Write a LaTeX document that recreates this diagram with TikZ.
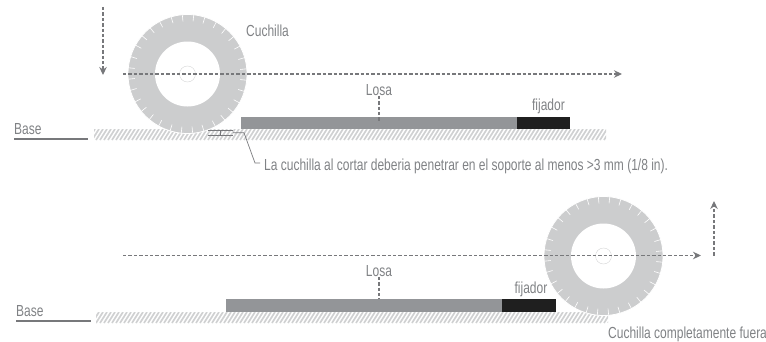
\documentclass[tikz,border=0pt]{standalone}
\usepackage{fontspec}
\setmainfont[FakeStretch=0.75]{Liberation Sans}
\usepackage{tikz}
\usetikzlibrary{arrows.meta}
\definecolor{labelgray}{HTML}{808285}
\definecolor{dashgray}{HTML}{77787B}
\definecolor{bladegray}{HTML}{CCCDCE}
\definecolor{slabgray}{HTML}{939598}
\definecolor{hatchgray}{HTML}{D0D1D2}
\tikzset{
label/.style={text=labelgray, font=\fontsize{16}{18}\selectfont, inner sep=0pt},
slab/.style={fill=slabgray, inner sep=0pt, minimum height=12.5pt, anchor=north west},
clamp/.style={fill=black!88, inner sep=0pt, minimum height=12.5pt, anchor=north west},
blade/.style={shape=circle, draw=white, line width=0.8pt, fill=bladegray, inner sep=0pt, minimum size=119pt},
bore/.style={shape=circle, fill=white, inner sep=0pt, minimum size=65pt},
hub/.style={shape=circle, draw=bladegray, line width=0.3pt, inner sep=0pt, minimum size=16pt},
travel/.style={draw=dashgray, line width=1.1pt, dash pattern=on 3.4pt off 2pt, -{Stealth[length=8pt,width=7.5pt]}},
marker/.style={draw=dashgray, line width=1.1pt, dash pattern=on 3.4pt off 2pt},
baseline/.style={draw=dashgray, line width=1.2pt}
}
\begin{document}
\begin{tikzpicture}[x=1pt,y=1pt]
\useasboundingbox (0,0) rectangle (766,341);
% ground strips
\begin{scope}
\clip (94,201) rectangle (606,212);
\foreach \i in {80,84,...,620} \draw[hatchgray, line width=1.7pt] (\i,201) -- ++(7,11);
\end{scope}
\begin{scope}
\clip (96,18) rectangle (608,29);
\foreach \i in {80,84,...,620} \draw[hatchgray, line width=1.7pt] (\i,18) -- ++(7,11);
\end{scope}
% slabs
\node (slabtop) [slab, minimum width=276pt] at (241,224.5) {};
\node (clamptop) [clamp, minimum width=53pt] at (517,224.5) {};
\node (slablow) [slab, minimum width=276pt] at (226,42) {};
\node (clamplow) [clamp, minimum width=54pt] at (502,42) {};
% blades
\node (bladetop) [blade] at (187.5,267) {};
\node (bladelow) [blade] at (603.5,85) {};
\foreach \c in {bladetop,bladelow}
{
\foreach \a in {5.625,16.875,...,360}
\draw[white, line width=0.6pt] (\c.\a) -- ++(\a+180:7);
\node (\c bore) [bore] at (\c.center) {};
\node (\c hub) [hub] at (\c.center) {};
}
% labels
\node (cuchilla) [label, anchor=west] at (246,310) {Cuchilla};
\node (losatop) [label] at (379,251) {Losa};
\node (fijadortop) [label] at (548.5,235) {fijador};
\node (basetop) [label, anchor=west] at (14,212) {Base};
\node (nota) [label, anchor=west] at (264,175) {La cuchilla al cortar deberia penetrar en el soporte al menos >3 mm (1/8 in).};
\node (losalow) [label] at (379,70) {Losa};
\node (fijadorlow) [label] at (531,52) {fijador};
\node (baselow) [label, anchor=west] at (16,30) {Base};
\node (fuera) [label, anchor=west] at (608,7) {Cuchilla completamente fuera};
% free ends
\coordinate (downstart) at (103,334);
\coordinate (downend) at (103,266);
\coordinate (topstart) at (123,267);
\coordinate (topend) at (622,267);
\coordinate (lowstart) at (123,85.5);
\coordinate (lowend) at (701,85.5);
\coordinate (upstart) at (714,85.5);
\coordinate (upend) at (714,140);
\coordinate (baseAend) at (14,202);
\coordinate (baseBend) at (16,20);
\coordinate (cutA) at (208,210.5);
\coordinate (cutB) at (233,210.5);
\coordinate (cutC) at (208,206);
\coordinate (cutD) at (233,206);
\coordinate (leadstart) at (233,208.3);
\coordinate (leadbend) at (244,208.3);
\coordinate (leadfoot) at (255,178);
\coordinate (leadend) at (260,178);
\draw[travel] (downstart) -- (downend);
\draw[travel] (topstart) -- (topend);
\draw[travel] (lowstart) -- (lowend);
\draw[travel] (upstart) -- (upend);
\draw[marker] (losatop.south) -- ++(0,-25);
\draw[marker] (losalow.south) -- ++(0,-22);
\draw[baseline] (baseAend) -- ++(74,0);
\draw[baseline] (baseBend) -- ++(75,0);
\draw[dashgray, line width=0.7pt] (cutA) -- (cutB);
\draw[dashgray, line width=0.7pt] (cutC) -- (cutD);
\draw[dashgray, line width=0.7pt] (220,210.5) -- (220,206);
\draw[dashgray, line width=0.7pt] (leadstart) -- (leadbend) -- (leadfoot) -- (leadend);
\end{tikzpicture}
\end{document}
